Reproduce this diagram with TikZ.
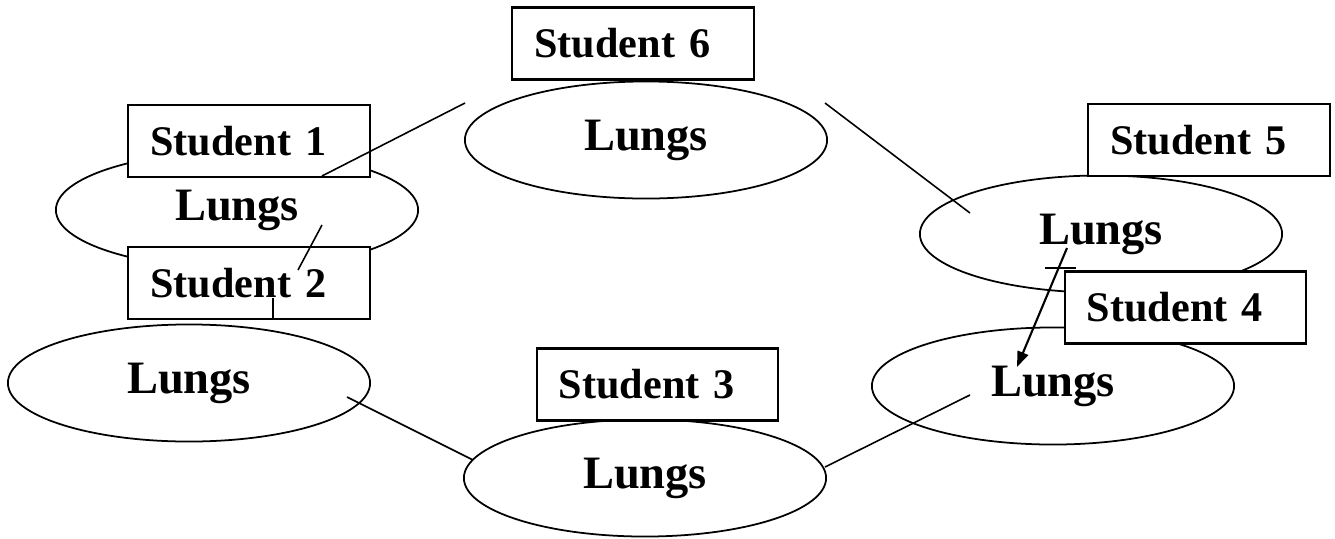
\documentclass[tikz,border=0pt]{standalone}
\usepackage{fontspec}
\setmainfont{Liberation Serif}
\usepackage{tikz}
\usetikzlibrary{arrows.meta,shapes.geometric}
\tikzset{
  lungs/.style={draw=black,fill=white,ellipse,line width=0.5pt,
                minimum width=3.62cm,minimum height=1.17cm,inner sep=0pt,
                font=\fontsize{13.2}{15}\selectfont\bfseries},
  namebox/.style={draw=black,fill=white,rectangle,line width=0.6pt,
                  minimum width=2.41cm,minimum height=0.72cm,
                  text width=1.97cm,inner xsep=0.22cm,inner ysep=0pt,align=left,
                  font=\fontsize{12}{14}\selectfont\bfseries},
  link/.style={line width=0.45pt},
  passarr/.style={-{Triangle[length=4.4pt,width=3.2pt]},line width=0.6pt}
}
\begin{document}
\begin{tikzpicture}[x=0.01cm,y=-0.01cm]
  \useasboundingbox (0,0) rectangle (1335,539);

  % the six lungs
  \node[lungs] (lung1) at (237,210) {Lungs};
  \node[lungs] (lung2) at (189,383) {Lungs};
  \node[lungs] (lung3) at (645,478) {Lungs};
  \node[lungs] (lung4) at (1053,386) {Lungs};
  \node[lungs] (lung5) at (1101,234) {Lungs};
  \node[lungs] (lung6) at (646,140) {Lungs};

  % student labels sit on top
  \node[namebox] (stud1) at (249,141) {Student 1};
  \node[namebox] (stud2) at (249,283) {Student 2};
  \node[namebox] (stud3) at (657.5,384.5) {Student 3};
  \node[namebox] (stud4) at (1185.5,307.5) {Student 4};
  \node[namebox] (stud5) at (1209,140) {Student 5};
  \node[namebox] (stud6) at (633,43.5) {Student 6};

  % loose ends of the links
  \coordinate (p6a) at (465,103);
  \coordinate (p1a) at (322,176);
  \coordinate (p1b) at (322,225);
  \coordinate (p2a) at (298,270);
  \coordinate (p2b) at (273,298);
  \coordinate (p2c) at (273,319);
  \coordinate (p2d) at (347,397);
  \coordinate (p3a) at (473,460);
  \coordinate (p3b) at (825,467);
  \coordinate (p4a) at (970,395);
  \coordinate (p6b) at (825,103);
  \coordinate (p5a) at (970,213);
  \coordinate (p5b) at (1067,248);
  \coordinate (p4b) at (1017,367);
  \coordinate (m5a) at (1045,268);
  \coordinate (m5b) at (1076,268);

  \draw[link] (p6a) -- (p1a);
  \draw[link] (p1b) -- (p2a);
  \draw[link] (p2b) -- (p2c);
  \draw[link] (p2d) -- (p3a);
  \draw[link] (p3b) -- (p4a);
  \draw[link] (p6b) -- (p5a);
  \draw[passarr] (p5b) -- (p4b);
  \draw[line width=0.8pt] (m5a) -- (m5b);
\end{tikzpicture}
\end{document}
